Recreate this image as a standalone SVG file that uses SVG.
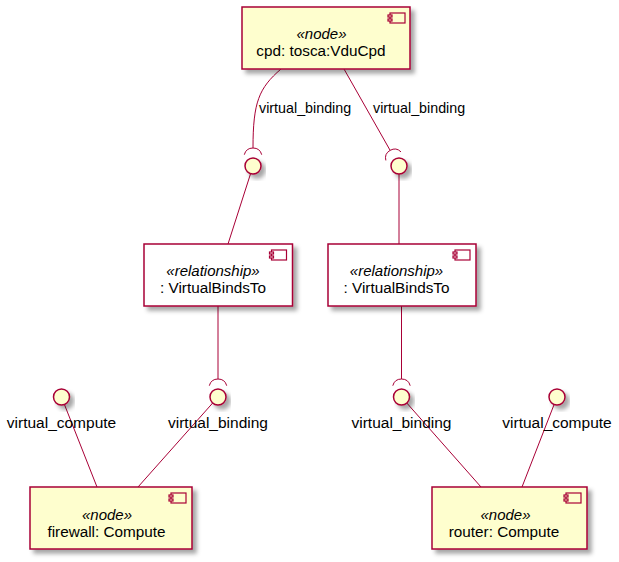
<svg xmlns="http://www.w3.org/2000/svg" width="619" height="562" viewBox="0 0 619 562">
<defs>
<filter id="sh" x="-20%" y="-20%" width="150%" height="160%">
<feGaussianBlur in="SourceAlpha" stdDeviation="2"/>
<feOffset dx="4" dy="4" result="b"/>
<feFlood flood-color="#000" flood-opacity="0.35"/>
<feComposite in2="b" operator="in" result="s"/>
<feMerge><feMergeNode in="s"/><feMergeNode in="SourceGraphic"/></feMerge>
</filter>
</defs>
<style>
.box{fill:#FEFECE;stroke:#A80036;stroke-width:1.5;filter:url(#sh)}
.rel{fill:#FFFFFF;stroke:#A80036;stroke-width:1.5;filter:url(#sh)}
.ico{fill:#FEFECE;stroke:#A80036;stroke-width:1.2}
.icow{fill:#FFFFFF;stroke:#A80036;stroke-width:1.2}
.if{fill:#FEFECE;stroke:#A80036;stroke-width:1.5;filter:url(#sh)}
.ln{fill:none;stroke:#A80036;stroke-width:1}
text{font-family:"Liberation Sans",Arial,sans-serif;fill:#000}
.st{font-size:15px;font-style:italic;text-anchor:middle}
.nm{font-size:15.3px;text-anchor:middle}
.lb{font-size:14.3px}
.pl{font-size:15.5px;text-anchor:middle}
</style>

<g id="connectors">
<path class="ln" d="M281,69 C259,88 253,102 253,148"/>
<path class="ln" d="M244.3,154.7 A9,9 0 0 1 261.7,154.7"/>
<text class="lb" x="259" y="113">virtual_binding</text>
<path class="ln" d="M344,69 L390.1,150.3"/>
<path class="ln" d="M385.85,160.43 A9,9 0 0 1 400.97,151.86"/>
<text class="lb" x="373" y="113">virtual_binding</text>
<path class="ln" d="M250.6,173.6 L228,244"/>
<path class="ln" d="M399,174 L399,244"/>
<path class="ln" d="M218,306 L218,379"/>
<path class="ln" d="M209.3,385.7 A9,9 0 0 1 226.7,385.7"/>
<path class="ln" d="M401.5,306 L401.5,379"/>
<path class="ln" d="M392.8,385.7 A9,9 0 0 1 410.2,385.7"/>
<path class="ln" d="M64.4,404.4 L97,487"/>
<path class="ln" d="M212.7,403 L138,487"/>
<path class="ln" d="M406.8,403 L481,487"/>
<path class="ln" d="M554.1,404.5 L522,487"/>
</g>

<g id="if_top_left"><circle class="if" cx="253" cy="166" r="8"/></g>
<g id="if_top_right"><circle class="if" cx="399" cy="166" r="8"/></g>
<g id="if_vc_left"><circle class="if" cx="61.5" cy="397" r="8"/><text class="pl" x="61.5" y="428">virtual_compute</text></g>
<g id="if_vb_left"><circle class="if" cx="218" cy="397" r="8"/><text class="pl" x="218" y="428">virtual_binding</text></g>
<g id="if_vb_right"><circle class="if" cx="401.5" cy="397" r="8"/><text class="pl" x="401.5" y="428">virtual_binding</text></g>
<g id="if_vc_right"><circle class="if" cx="557" cy="397" r="8"/><text class="pl" x="557" y="428">virtual_compute</text></g>

<g id="cpd">
<rect class="box" x="242" y="7" width="168" height="62"/>
<rect class="ico" x="390" y="13" width="15" height="10"/>
<rect class="ico" x="388" y="15" width="4" height="2"/>
<rect class="ico" x="388" y="19" width="4" height="2"/>
<text class="st" x="321.5" y="39">«node»</text>
<text class="nm" x="321" y="56">cpd: tosca:VduCpd</text>
</g>

<g id="rel_left">
<rect class="rel" x="144" y="244" width="148.5" height="62"/>
<rect class="icow" x="271.5" y="250" width="15" height="10"/>
<rect class="icow" x="269.5" y="252" width="4" height="2"/>
<rect class="icow" x="269.5" y="256" width="4" height="2"/>
<text class="st" x="213" y="276">«relationship»</text>
<text class="nm" x="213" y="293">: VirtualBindsTo</text>
</g>

<g id="rel_right">
<rect class="rel" x="328" y="244" width="148" height="62"/>
<rect class="icow" x="455" y="250" width="15" height="10"/>
<rect class="icow" x="453" y="252" width="4" height="2"/>
<rect class="icow" x="453" y="256" width="4" height="2"/>
<text class="st" x="396.5" y="276">«relationship»</text>
<text class="nm" x="396.5" y="293">: VirtualBindsTo</text>
</g>

<g id="firewall">
<rect class="box" x="30" y="487" width="162" height="62"/>
<rect class="ico" x="171" y="493" width="15" height="10"/>
<rect class="ico" x="169" y="495" width="4" height="2"/>
<rect class="ico" x="169" y="499" width="4" height="2"/>
<text class="st" x="107" y="520">«node»</text>
<text class="nm" x="106.5" y="537">firewall: Compute</text>
</g>

<g id="router">
<rect class="box" x="432" y="487" width="155" height="62"/>
<rect class="ico" x="566" y="493" width="15" height="10"/>
<rect class="ico" x="564" y="495" width="4" height="2"/>
<rect class="ico" x="564" y="499" width="4" height="2"/>
<text class="st" x="505.5" y="520">«node»</text>
<text class="nm" x="504" y="537">router: Compute</text>
</g>
</svg>
